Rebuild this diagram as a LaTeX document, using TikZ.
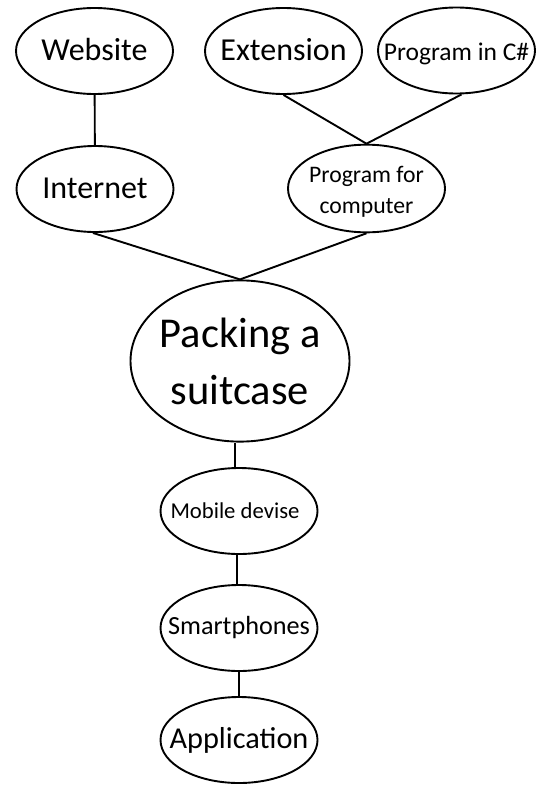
\documentclass[tikz,border=0pt]{standalone}
\usepackage{fontspec}
\setmainfont{Carlito}
\usetikzlibrary{shapes.geometric}
\newcommand{\onel}[2][0pt]{\raisebox{#1}[\height][\depth]{\makebox[0pt]{#2}}}
\newcommand{\twol}[3][0pt]{\raisebox{#1}[\height][\depth]{\makebox[0pt]{\begin{tabular}{@{}c@{}}#2\\#3\end{tabular}}}}
\begin{document}
\begin{tikzpicture}[x=1pt,y=-1pt,
  bub/.style={draw=black,line width=1.9pt,ellipse,inner sep=0pt,minimum width=157pt,minimum height=86pt},
  link/.style={draw=black,line width=1.9pt}]
\useasboundingbox (0,0) rectangle (546,795);
\node[bub,font=\fontsize{32}{38}\selectfont] (web) at (94.5,51) {\onel[1pt]{Website}};
\node[bub,font=\fontsize{32}{38}\selectfont] (ext) at (283.5,51) {\onel[1pt]{Extension}};
\node[bub,font=\fontsize{25.5}{30}\selectfont] (csh) at (456.5,50.5) {\onel[-3pt]{Program in C\#}};
\node[bub,font=\fontsize{32}{38}\selectfont] (inet) at (95,189) {\onel[1pt]{Internet}};
\node[bub,minimum height=85pt,font=\fontsize{23.7}{31}\selectfont] (prog) at (366.5,188.5) {\twol[-3pt]{Program for}{computer}};
\node[bub,minimum width=219pt,minimum height=155pt,font=\fontsize{42.5}{57}\selectfont] (pack) at (240,361) {\twol[-4pt]{Packing a}{suitcase}};
\node[bub,font=\fontsize{22.7}{27}\selectfont] (mob) at (239,511) {\onel{Mobile devise\hspace{8pt}}};
\node[bub,font=\fontsize{26.2}{31}\selectfont] (smart) at (239,628) {\onel{Smartphones}};
\node[bub,font=\fontsize{30.3}{36}\selectfont] (app) at (239,740) {\onel{Application}};
\draw[link] (web) -- (inet);
\draw[link] (ext.south) -- (prog.north);
\draw[link] ([xshift=5pt]csh.south) -- (prog.north);
\draw[link] ([xshift=-2pt]inet.south) -- (pack.north);
\draw[link] (prog.south) -- (pack.north);
\draw[link] ([xshift=-5pt]pack.south) -- ([xshift=-4pt]mob.north);
\draw[link] ([xshift=-2pt]mob.south) -- ([xshift=-2pt]smart.north);
\draw[link] (smart) -- (app);
\end{tikzpicture}
\end{document}
